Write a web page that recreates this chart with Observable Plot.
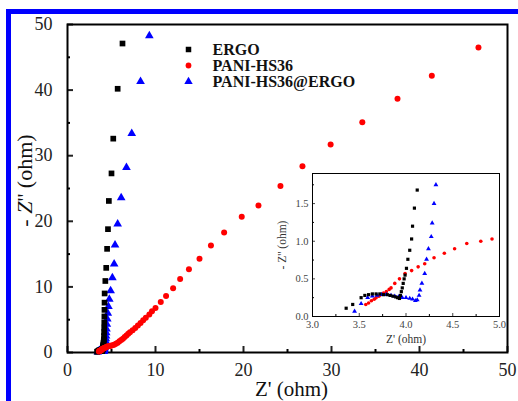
<!DOCTYPE html>
<html><head><meta charset="utf-8">
<script src="https://cdn.jsdelivr.net/npm/d3@7"></script>
<script src="https://cdn.jsdelivr.net/npm/@observablehq/plot@0.6"></script>
<style>
html,body{margin:0;padding:0;background:#fff;}
#wrap{position:relative;width:518px;height:401px;overflow:hidden;font-family:"Liberation Serif","DejaVu Serif",serif;}
#wrap svg text, #wrap svg tspan{font-family:"Liberation Serif","DejaVu Serif",serif !important;}
#bl{position:absolute;left:6px;top:9px;width:5px;height:392px;background:#0000ff;}
#bt{position:absolute;left:6px;top:9px;width:512px;height:5px;background:#0000ff;}
#main,#inset,#legend{position:absolute;}
#main{left:0;top:0;}
#inset{left:270px;top:165px;}
#legend{left:170px;top:30px;}
svg{overflow:visible;}
</style></head><body>
<div id="wrap"><div id="main"></div><div id="inset"></div><div id="legend"></div><div id="bl"></div><div id="bt"></div></div>
<script>
const seriesNames = ["ERGO", "PANI-HS36", "PANI-HS36@ERGO"];
const seriesColors = ["#000000", "#ff0000", "#0000ff"];
const seriesSymbols = ["square", "circle", "triangle"];

const ergoX = [3.36,3.43,3.52,3.56,3.60,3.64,3.68,3.72,3.76,3.80,3.83,3.86,3.89,3.91,3.93,3.94,3.95,3.96,3.97,3.98,3.99,4.005,4.02,4.04,4.06,4.07,4.09,4.12,4.14,4.15,4.16,4.17,4.18,4.19,4.20,4.21,4.22,4.30,4.40,4.50,4.60,4.70,5.0,5.2,5.7,6.25];
const ergoY = [0.11,0.16,0.25,0.28,0.29,0.30,0.30,0.30,0.29,0.29,0.28,0.27,0.26,0.25,0.24,0.28,0.33,0.38,0.44,0.50,0.55,0.64,0.76,0.88,1.03,1.20,1.44,1.68,2.0,2.5,3.1,3.8,4.6,5.5,6.5,7.6,9.0,10.9,12.9,15.8,18.8,23.1,27.3,32.6,40.2,47.1];

const paniX = [3.57,3.60,3.63,3.66,3.68,3.71,3.73,3.76,3.79,3.82,3.84,3.88,3.93,3.99,4.06,4.13,4.20,4.30,4.41,4.52,4.65,4.80,4.92,5.1,5.3,5.5,5.7,5.9,6.1,6.3,6.5,6.7,6.9,7.1,7.4,7.7,8.0,8.3,8.6,8.9,9.3,9.6,10.0,10.6,11.2,12.0,12.8,13.8,15.0,16.3,17.8,19.8,21.7,24.2,26.7,29.9,33.5,37.5,41.4,46.7];
const paniY = [0.16,0.18,0.21,0.23,0.25,0.27,0.29,0.31,0.33,0.36,0.38,0.44,0.50,0.57,0.61,0.66,0.70,0.78,0.84,0.90,0.97,1.00,1.03,1.1,1.2,1.35,1.5,1.7,1.9,2.1,2.35,2.6,2.85,3.1,3.4,3.75,4.1,4.5,4.9,5.3,5.8,6.3,6.8,7.7,8.6,9.8,11.2,12.7,14.3,16.3,18.3,20.7,22.4,25.4,28.4,31.7,35.1,38.7,42.2,46.5];

const hybX = [3.45,3.52,3.59,3.64,3.69,3.74,3.79,3.84,3.88,3.92,3.96,4.00,4.04,4.07,4.10,4.12,4.14,4.15,4.17,4.20,4.22,4.24,4.27,4.28,4.30,4.32,4.35,4.38,4.40,4.43,4.47,4.52,4.58,4.65,4.75,4.9,5.1,5.3,5.4,5.7,6.1,6.7,7.3,8.3,9.3];
const hybY = [0.07,0.17,0.25,0.27,0.28,0.29,0.29,0.28,0.27,0.26,0.25,0.25,0.24,0.23,0.21,0.22,0.28,0.35,0.44,0.57,0.76,0.90,1.06,1.24,1.50,1.75,2.1,2.5,3.0,3.6,4.3,5.1,6.0,7.0,8.1,9.4,11.4,13.5,16.4,19.6,23.6,28.2,33.4,41.3,48.3];

const mainXTicks = [0,10,20,30,40,50];
const mainYTicks = [0,10,20,30,40,50];
const mainMinor = [5,15,25,35,45];
const insetXTicks = [3.0,3.5,4.0,4.5,5.0];
const insetXMinor = [3.25,3.75,4.25,4.75];
const insetYTicks = [0.0,0.5,1.0,1.5];
const insetYMinor = [0.25,0.75,1.25,1.75];

const toPts = (xs, ys, s) => xs.map((x, i) => ({x, y: ys[i], s}));
const all = [
  ...toPts(paniX, paniY, seriesNames[1]),
  ...toPts(hybX, hybY, seriesNames[2]),
  ...toPts(ergoX, ergoY, seriesNames[0])
];
const symbolScale = {domain: seriesNames, range: seriesSymbols};
const colorScale = {domain: seriesNames, range: seriesColors};
const font = "Liberation Serif";

const main = Plot.plot({
  width: 518, height: 401,
  marginLeft: 67, marginRight: 11, marginTop: 24, marginBottom: 49,
  style: {fontFamily: font, background: "transparent"},
  x: {domain: [0, 50]},
  y: {domain: [0, 50]},
  symbol: symbolScale, color: colorScale,
  marks: [
    Plot.axisX({ticks: mainXTicks, tickSize: -6, tickPadding: 17, fontSize: 18, fontFamily: font, color: "#222", label: null, tickFormat: d => d, strokeWidth: 2}),
    Plot.axisX({ticks: mainMinor, tickSize: -3, label: null, text: null, strokeWidth: 2}),
    Plot.axisY({ticks: mainYTicks, tickSize: -6, tickPadding: 21, fontSize: 18, fontFamily: font, color: "#222", label: null, tickFormat: d => d, strokeWidth: 2}),
    Plot.axisY({ticks: mainMinor, tickSize: -3, label: null, text: null, strokeWidth: 2}),
    Plot.frame({strokeWidth: 2, stroke: "#000"}),
    Plot.dot(all, {x: "x", y: "y", symbol: "s", fill: "s", r: d => d.s === seriesNames[1] ? 4 : 4.6}),
    Plot.text(["Z' (ohm)"], {frameAnchor: "bottom", textAnchor: "middle", dx: 4, dy: 37, fontSize: 21, fontFamily: font, fill: "#111", lineAnchor: "middle"}),
    Plot.text(["- Z'' (ohm)"], {frameAnchor: "left", textAnchor: "middle", rotate: -90, dx: -43, dy: -8, fontSize: 22, fontFamily: font, fill: "#111", lineAnchor: "middle"})
  ]
});
document.getElementById("main").appendChild(main);

const insetData = all.filter(d => d.x >= 3 && d.x <= 5 && d.y <= 1.9);
const inset = Plot.plot({
  width: 240, height: 180,
  marginLeft: 42, marginRight: 11, marginTop: 8, marginBottom: 29,
  style: {fontFamily: font, background: "transparent"},
  x: {domain: [3, 5]},
  y: {domain: [0, 1.9]},
  symbol: symbolScale, color: colorScale,
  marks: [
    Plot.frame({fill: "#fff", stroke: "none"}),
    Plot.axisX({ticks: insetXTicks, tickSize: -3, tickPadding: 7, fontSize: 10.5, fontFamily: font, color: "#444", label: null, tickFormat: d3.format(".1f")}),
    Plot.axisX({ticks: insetXMinor, tickSize: -2, label: null, text: null}),
    Plot.axisY({ticks: insetYTicks, tickSize: -3, tickPadding: 7, fontSize: 10.5, fontFamily: font, color: "#444", label: null, tickFormat: d3.format(".1f")}),
    Plot.axisY({ticks: insetYMinor, tickSize: -2, label: null, text: null}),
    Plot.frame({stroke: "#000", strokeWidth: 1}),
    Plot.dot(insetData, {x: "x", y: "y", symbol: "s", fill: "s", r: 1.8}),
    Plot.text(["Z' (ohm)"], {frameAnchor: "bottom", textAnchor: "middle", dy: 23, fontSize: 11.5, fontFamily: font, fill: "#333", lineAnchor: "middle"}),
    Plot.text(["- Z'' (ohm)"], {frameAnchor: "left", textAnchor: "middle", rotate: -90, dx: -30, dy: 0, fontSize: 11.5, fontFamily: font, fill: "#333", lineAnchor: "middle"})
  ]
});
document.getElementById("inset").appendChild(inset);

const legend = Plot.plot({
  width: 230, height: 72, margin: 0,
  style: {fontFamily: font, background: "transparent"},
  x: {domain: [0, 1], range: [18, 218], axis: null},
  y: {type: "point", domain: seriesNames, range: [11, 59], axis: null},
  symbol: symbolScale, color: colorScale,
  marks: [
    Plot.dot(seriesNames, {x: () => 0, y: d => d, symbol: d => d, fill: d => d, r: d => d === seriesNames[1] ? 4 : 4.6}),
    Plot.text(seriesNames, {x: () => 0, y: d => d, text: d => d, dx: 24, textAnchor: "start", fontSize: 16, fontFamily: font, fontWeight: "bold", fill: "#111"})
  ]
});
document.getElementById("legend").appendChild(legend);

// italic Z in main y label
d3.select(main).selectAll("text").filter(function(){ return this.textContent === "- Z'' (ohm)"; }).each(function(){
  const t = d3.select(this); t.text(null);
  t.append("tspan").text("- ");
  t.append("tspan").attr("font-style", "italic").text("Z");
  t.append("tspan").text("'' (ohm)");
});
</script>
</body></html>
